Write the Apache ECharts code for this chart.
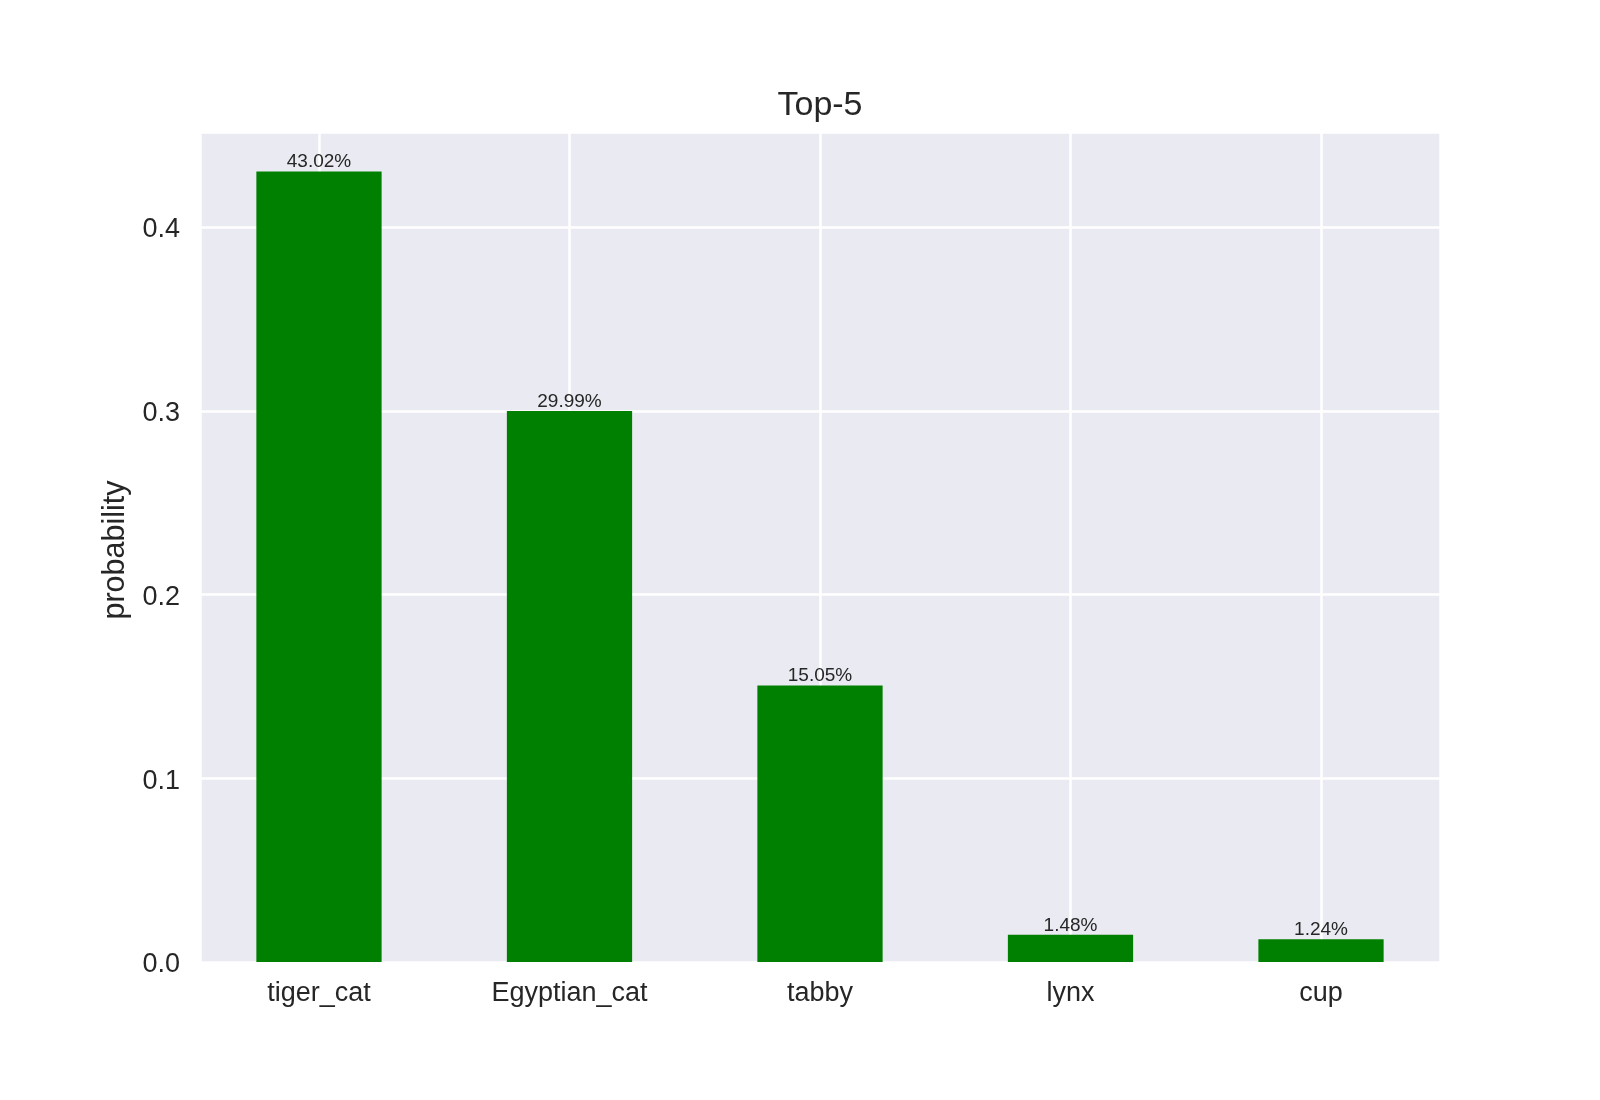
<!DOCTYPE html>
<html>
<head>
<meta charset="utf-8">
<script src="https://cdn.jsdelivr.net/npm/echarts@6/dist/echarts.min.js"></script>
<style>
html,body{margin:0;padding:0;background:#fff;}
#chart{width:1600px;height:1100px;}
</style>
</head>
<body>
<div id="chart"></div>
<script>
const categories = ['tiger_cat', 'Egyptian_cat', 'tabby', 'lynx', 'cup'];
const probabilities = [0.4302, 0.2999, 0.1505, 0.0148, 0.0124];
const yTicks = [0.0, 0.1, 0.2, 0.3, 0.4];
const chartTitle = 'Top-5';
const yName = 'probability';

const FONT = '"Liberation Sans", Arial, sans-serif';
const TXT = '#262626';

const barData = probabilities.map((v, i) => [i, v]);
const yMax = Math.max(...probabilities) * 1.05;
const xMin = -0.25 - 0.225;
const xMax = categories.length - 1 + 0.25 + 0.225;

const chart = echarts.init(document.getElementById('chart'), null, {renderer: 'canvas'});
chart.setOption({
  backgroundColor: '#ffffff',
  animation: false,
  title: {
    text: chartTitle,
    left: 815,
    textAlign: 'center',
    top: 84,
    textStyle: {fontFamily: FONT, fontSize: 34, fontWeight: 'normal', color: TXT}
  },
  grid: {
    left: 200, top: 132, width: 1240, height: 830,
    show: true, backgroundColor: '#EAEAF2', borderWidth: 0
  },
  xAxis: {
    type: 'value',
    min: xMin,
    max: xMax,
    axisLine: {show: false},
    axisTick: {show: false},
    splitLine: {show: true, lineStyle: {color: '#ffffff', width: 2.5}},
    axisLabel: {
      margin: 18,
      fontFamily: FONT, fontSize: 27, color: TXT,
      showMinLabel: false, showMaxLabel: false,
      formatter: function (v) {
        const r = Math.round(v);
        if (Math.abs(v - r) > 1e-6) return '';
        return categories[r] !== undefined ? categories[r] : '';
      }
    }
  },
  yAxis: {
    type: 'value',
    min: 0,
    max: yMax,
    interval: 0.1,
    name: yName,
    nameLocation: 'middle',
    nameGap: 66,
    nameTextStyle: {fontFamily: FONT, fontSize: 30.5, color: TXT, padding: [0, 6, 0, 0]},
    axisLine: {show: false},
    axisTick: {show: false},
    splitLine: {show: true, lineStyle: {color: '#ffffff', width: 2.5}},
    axisLabel: {
      margin: 20,
      fontFamily: FONT, fontSize: 27, color: TXT,
      showMaxLabel: false,
      rich: {
        t: {fontFamily: FONT, fontSize: 27, color: TXT, padding: [6, 0, 0, 0]}
      },
      formatter: function (v) {
        const hit = yTicks.find(t => Math.abs(t - v) < 1e-6);
        return hit !== undefined ? '{t|' + hit.toFixed(1) + '}' : '';
      }
    }
  },
  series: [{
    type: 'bar',
    data: barData,
    barWidth: '50%',
    itemStyle: {color: '#008000'},
    label: {
      show: true,
      position: 'top',
      distance: 0,
      fontFamily: FONT, fontSize: 19, color: TXT,
      formatter: function (p) { return (p.value[1] * 100).toFixed(2) + '%'; }
    }
  }]
});
</script>
</body>
</html>
